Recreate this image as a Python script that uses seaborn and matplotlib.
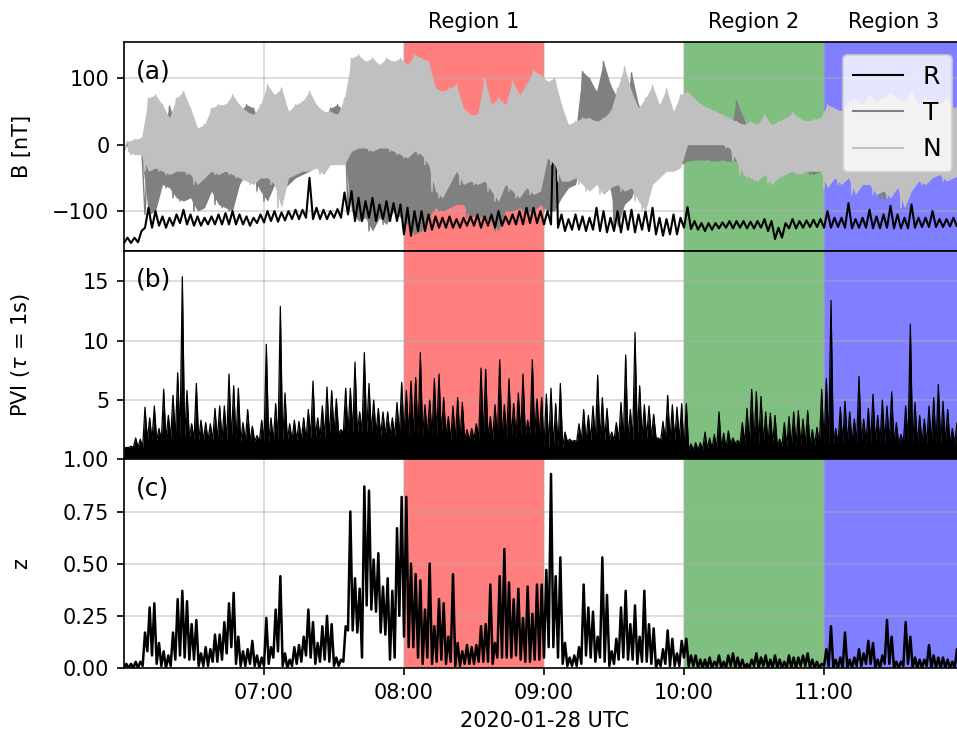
import numpy as np
import pandas as pd
import seaborn as sns
import matplotlib
matplotlib.use("Agg")
import matplotlib.pyplot as plt
import matplotlib.dates as mdates

START = pd.Timestamp("2020-01-28 06:00")

# ---- values ----
# B components: envelope (high / low) per 3-minute bin from 06:00 UTC
b_r_hi = [-140, -140, -130, -95, -100, -108, -110, -105, -98, -105,
          -108, -110, -108, -105, -103, -100, -105, -108, -110, -105,
          -100, -100, -102, -100, -98, -98, -50, -95, -98, -100,
          -97, -72, -70, -80, -85, -80, -90, -85, -88, -90,
          -95, -100, -100, -105, -108, -110, -108, -112, -110, -108,
          -105, -108, -105, -100, -108, -105, -100, -95, -95, -100,
          -100, 95, -105, -112, -105, -108, -110, -95, -100, -110,
          -100, -100, -98, -105, -100, -95, -110, -112, -105, -110,
          -94, -115, -118, -118, -118, -117, -115, -115, -115, -116,
          -115, -112, -115, -125, -118, -112, -115, -114, -113, -112,
          -100, -110, -110, -88, -112, -110, -98, -108, -105, -92,
          -105, -110, -90, -110, -110, -100, -112, -112, -110, -110]
b_r_lo = [-148, -148, -147, -125, -125, -122, -125, -122, -118, -120,
          -122, -122, -120, -120, -120, -120, -120, -120, -122, -118,
          -117, -115, -116, -114, -112, -112, -110, -112, -112, -112,
          -110, -110, -105, -115, -115, -110, -115, -112, -115, -115,
          -135, -137, -130, -130, -128, -125, -125, -125, -125, -122,
          -122, -125, -122, -125, -122, -120, -120, -120, -118, -118,
          -120, -120, -125, -130, -128, -128, -130, -128, -130, -132,
          -130, -132, -128, -132, -128, -130, -135, -137, -135, -135,
          -125, -127, -128, -130, -128, -126, -125, -126, -125, -126,
          -126, -125, -130, -142, -140, -126, -126, -125, -124, -124,
          -125, -125, -124, -125, -126, -125, -125, -126, -126, -125,
          -126, -126, -126, -125, -124, -124, -124, -124, -123, -123]
b_t_hi = [0, 2, 3, 10, 20, 15, 58, 30, 20, 20,
          10, 30, 25, 20, 30, 35, 50, 60, 55, 30,
          35, 70, 40, 30, 55, 60, 50, 30, 40, 55,
          60, 50, -5, 0, 0, 0, 0, 0, 0, 5,
          0, 0, 0, 0, 10, 10, 20, 15, 20, 25,
          30, 25, 20, 20, 15, 30, 30, 35, 30, 35,
          90, 85, 20, 10, 20, 110, 100, 80, 125, 90,
          70, 50, 108, 60, 30, 5, 30, -2, -2, 5,
          0, 0, 0, 0, 0, 0, 10, 66, 40, 15,
          10, 10, 5, 0, 10, 5, 0, 5, 0, 5,
          20, 15, 20, 15, 25, 20, 30, 25, 60, 30,
          20, 25, 30, 20, 25, 15, 20, 20, 15, 15]
b_t_lo = [-8, -10, -15, -105, -100, -60, -65, -80, -85, -80,
          -100, -95, -70, -90, -95, -100, -60, -40, -50, -70,
          -85, -60, -70, -60, -50, -45, -40, -30, -40, -25,
          -30, -20, -100, -115, -110, -130, -110, -120, -100, -110,
          -120, -135, -130, -110, -95, -100, -95, -90, -90, -110,
          -105, -110, -115, -130, -100, -100, -95, -100, -100, -90,
          -100, -100, -80, -65, -60, -20, 0, 0, -30, -70,
          -125, -90, -80, -50, -40, -40, -35, -25, -25, -30,
          -25, -23, -23, -23, -25, -23, -25, -25, -30, -40,
          -40, -45, -40, -45, -45, -40, -45, -40, -45, -40,
          -50, -45, -50, -40, -45, -50, -50, -55, -85, -60,
          -55, -60, -55, -50, -45, -45, -40, -40, -45, -40]
b_n_hi = [5, 8, 10, 70, 75, 60, 40, 70, 80, 55,
          25, 30, 55, 60, 60, 75, 60, 50, 45, 60,
          90, 75, 85, 50, 60, 65, 80, 60, 50, 50,
          45, 70, 130, 135, 125, 130, 120, 130, 125, 130,
          120, 135, 130, 125, 85, 80, 85, 90, 55, 45,
          45, 100, 60, 70, 60, 95, 75, 90, 112, 105,
          95, 100, 60, 30, 35, 40, 40, 35, 40, 50,
          85, 117, 80, 55, 70, 89, 60, 84, 50, 75,
          80, 70, 60, 55, 50, 45, 40, 35, 30, 35,
          30, 45, 30, 35, 40, 48, 40, 35, 38, 40,
          60, 55, 50, 65, 70, 60, 75, 65, 70, 78,
          70, 65, 80, 60, 70, 65, 60, 70, 55, 60]
b_n_lo = [-10, -15, -15, -40, -35, -40, -45, -40, -40, -45,
          -60, -50, -40, -45, -40, -45, -50, -55, -60, -50,
          -50, -60, -95, -50, -45, -40, -40, -35, -45, -30,
          -30, -30, -10, -5, -5, -10, -5, -5, -10, -15,
          -20, -10, -15, -30, -70, -80, -60, -40, -60, -55,
          -60, -55, -70, -85, -60, -70, -80, -65, -75, -70,
          -20, -30, -55, -55, -50, -60, -70, -60, -75, -65,
          -60, -70, -65, -85, -100, -60, -50, -40, -40, -35,
          0, 0, 0, 0, 0, 0, -5, -25, -45, -50,
          -55, -45, -60, -50, -45, -40, -45, -40, -40, -40,
          -65, -50, -60, -50, -75, -60, -60, -75, -70, -80,
          -65, -95, -70, -55, -60, -50, -45, -55, -50, -45]

# PVI: peak per 2-minute bin, and the solid floor per 10 minutes
pvi_peak = [1.0, 1.1, 1.8, 1.7, 4.4, 3.5, 4.5, 2.6, 5.9, 3.7,
            5.4, 7.3, 15.4, 5.8, 3.0, 6.4, 3.3, 3.1, 3.0, 4.3,
            4.5, 4.5, 7.2, 6.2, 6.0, 3.1, 4.2, 2.8, 2.0, 3.3,
            9.7, 3.5, 4.7, 12.9, 5.6, 3.0, 3.3, 3.2, 3.5, 4.2,
            6.6, 3.5, 4.5, 6.1, 5.8, 5.1, 2.5, 6.0, 6.0, 8.2,
            4.0, 9.0, 6.4, 5.0, 4.3, 4.0, 4.0, 3.5, 4.8, 6.5,
            5.8, 6.6, 6.9, 9.0, 4.6, 5.0, 6.8, 7.2, 5.2, 3.6,
            4.5, 5.2, 4.8, 2.5, 2.6, 3.0, 7.7, 7.6, 3.6, 4.6,
            8.4, 4.6, 6.8, 4.7, 5.6, 7.2, 3.3, 8.4, 5.1, 5.2,
            5.5, 6.0, 4.7, 6.4, 2.3, 1.7, 1.6, 3.0, 4.2, 3.7,
            4.5, 7.1, 5.2, 4.3, 2.3, 3.1, 4.8, 8.8, 4.2, 10.7,
            6.2, 4.6, 4.5, 3.8, 1.8, 3.2, 5.4, 4.6, 4.4, 4.7,
            4.7, 1.3, 1.4, 1.4, 2.3, 1.8, 2.1, 4.0, 2.2, 2.4,
            1.8, 1.6, 3.1, 4.3, 5.9, 5.7, 5.3, 4.0, 3.9, 3.7,
            1.7, 3.1, 3.6, 4.0, 4.1, 3.4, 4.1, 2.5, 2.7, 5.9,
            6.8, 13.4, 2.6, 4.4, 4.9, 4.0, 3.4, 7.0, 3.4, 4.3,
            5.5, 3.7, 5.0, 4.5, 5.7, 3.1, 2.1, 4.5, 11.4, 4.8,
            3.7, 3.4, 4.5, 5.2, 6.3, 4.9, 4.2, 2.6, 3.1, 3.0]
pvi_floor = [1.0, 1.6, 1.8, 1.6, 1.6, 1.5, 1.5, 1.6, 1.8, 2.2,
             2.2, 2.0, 2.0, 2.0, 1.6, 1.7, 1.8, 2.0, 1.0, 1.5,
             1.6, 1.6, 1.8, 1.6, 0.8, 0.9, 1.3, 1.3, 1.1, 1.2,
             1.3, 1.4, 1.4, 1.3, 1.3, 1.3]

# z: envelope per 2-minute bin
z_hi = [0.02, 0.02, 0.03, 0.03, 0.17, 0.29, 0.31, 0.12, 0.08, 0.06,
        0.17, 0.33, 0.37, 0.32, 0.21, 0.23, 0.07, 0.10, 0.09, 0.16,
        0.16, 0.22, 0.31, 0.36, 0.15, 0.08, 0.09, 0.13, 0.06, 0.05,
        0.24, 0.10, 0.28, 0.44, 0.07, 0.04, 0.10, 0.11, 0.15, 0.28,
        0.22, 0.12, 0.20, 0.25, 0.21, 0.05, 0.04, 0.20, 0.75, 0.43,
        0.38, 0.87, 0.85, 0.52, 0.55, 0.39, 0.43, 0.37, 0.67, 0.82,
        0.82, 0.50, 0.45, 0.42, 0.28, 0.50, 0.20, 0.33, 0.31, 0.15,
        0.45, 0.12, 0.08, 0.11, 0.10, 0.11, 0.20, 0.21, 0.40, 0.12,
        0.44, 0.57, 0.41, 0.33, 0.38, 0.24, 0.39, 0.26, 0.40, 0.40,
        0.47, 0.93, 0.44, 0.53, 0.12, 0.05, 0.06, 0.10, 0.40, 0.29,
        0.27, 0.15, 0.53, 0.35, 0.08, 0.14, 0.29, 0.37, 0.21, 0.30,
        0.15, 0.37, 0.21, 0.19, 0.04, 0.09, 0.18, 0.14, 0.07, 0.13,
        0.14, 0.06, 0.06, 0.04, 0.04, 0.05, 0.03, 0.06, 0.03, 0.06,
        0.07, 0.05, 0.04, 0.02, 0.04, 0.07, 0.05, 0.06, 0.04, 0.06,
        0.04, 0.03, 0.06, 0.05, 0.05, 0.06, 0.07, 0.04, 0.03, 0.02,
        0.09, 0.20, 0.04, 0.05, 0.17, 0.04, 0.05, 0.09, 0.07, 0.13,
        0.12, 0.04, 0.06, 0.23, 0.15, 0.03, 0.03, 0.22, 0.15, 0.05,
        0.04, 0.04, 0.11, 0.06, 0.05, 0.05, 0.04, 0.03, 0.09, 0.05]
z_lo = [0.0, 0.0, 0.0, 0.0, 0.01, 0.08, 0.06, 0.02, 0.01, 0.0,
        0.01, 0.04, 0.06, 0.05, 0.04, 0.04, 0.01, 0.01, 0.01, 0.03,
        0.03, 0.04, 0.07, 0.10, 0.02, 0.01, 0.01, 0.02, 0.01, 0.0,
        0.01, 0.02, 0.05, 0.08, 0.01, 0.0, 0.01, 0.02, 0.03, 0.06,
        0.05, 0.02, 0.03, 0.04, 0.03, 0.01, 0.01, 0.03, 0.18, 0.18,
        0.17, 0.05, 0.30, 0.28, 0.27, 0.17, 0.16, 0.04, 0.05, 0.25,
        0.15, 0.10, 0.10, 0.05, 0.02, 0.05, 0.02, 0.03, 0.04, 0.02,
        0.03, 0.01, 0.01, 0.02, 0.02, 0.02, 0.03, 0.03, 0.03, 0.02,
        0.05, 0.05, 0.05, 0.05, 0.06, 0.04, 0.03, 0.03, 0.04, 0.04,
        0.05, 0.10, 0.10, 0.05, 0.02, 0.01, 0.01, 0.01, 0.02, 0.06,
        0.05, 0.03, 0.05, 0.03, 0.01, 0.02, 0.04, 0.05, 0.04, 0.04,
        0.02, 0.03, 0.03, 0.02, 0.0, 0.01, 0.02, 0.01, 0.01, 0.01,
        0.05, 0.01, 0.01, 0.0, 0.0, 0.0, 0.0, 0.01, 0.0, 0.0,
        0.01, 0.0, 0.0, 0.0, 0.0, 0.01, 0.0, 0.01, 0.0, 0.0,
        0.0, 0.0, 0.0, 0.0, 0.0, 0.01, 0.01, 0.0, 0.0, 0.0,
        0.01, 0.01, 0.0, 0.0, 0.0, 0.0, 0.0, 0.01, 0.01, 0.02,
        0.02, 0.0, 0.0, 0.02, 0.02, 0.0, 0.0, 0.01, 0.02, 0.0,
        0.0, 0.0, 0.01, 0.0, 0.0, 0.0, 0.0, 0.0, 0.0, 0.0]

regions = ["Region 1", "Region 2", "Region 3"]
region_start = ["08:00", "10:00", "11:00"]
region_end = ["09:00", "11:00", "12:00"]
region_colors = ["red", "green", "blue"]


def at(hhmm):
    return START.normalize() + pd.Timedelta(hhmm + ":00")


def zigzag(hi, lo, step):
    # one low and one high sample per bin so the trace keeps its spread
    n = len(hi)
    mins = np.repeat(np.arange(n) * step, 2).astype(float)
    mins[1::2] += step / 2
    vals = np.empty(2 * n)
    vals[0::2] = lo
    vals[1::2] = hi
    return (START + pd.to_timedelta(mins, unit="min")).to_numpy(), vals


def centres(n, step):
    return (START + pd.to_timedelta(np.arange(n) * step + step / 2, unit="min")).to_numpy()


plt.rcParams["font.size"] = 10
fig, axes = plt.subplots(3, 1, sharex=True, figsize=(957 / 150, 738 / 150), dpi=150,
                         gridspec_kw=dict(hspace=0))
fig.subplots_adjust(left=124 / 957, right=964 / 957, top=1 - 42 / 738, bottom=1 - 668 / 738)
ax_b, ax_p, ax_z = axes

# (a) magnetic field: T band, R trace over it, N band on top
tc = centres(len(b_t_hi), 3)
ax_b.fill_between(tc, b_t_lo, b_t_hi, color="gray", lw=0, zorder=2.0)
t, v = zigzag(b_t_hi, b_t_lo, 3)
sns.lineplot(x=t, y=v, color="gray", lw=0.7, label="T", estimator=None, sort=False, ax=ax_b, zorder=2.05)
t, v = zigzag(b_r_hi, b_r_lo, 3)
sns.lineplot(x=t, y=v, color="black", lw=1.0, label="R", estimator=None, sort=False, ax=ax_b, zorder=2.1)
ax_b.fill_between(tc, b_n_lo, b_n_hi, color="silver", lw=0, zorder=2.2)
t, v = zigzag(b_n_hi, b_n_lo, 3)
sns.lineplot(x=t, y=v, color="silver", lw=0.7, label="N", estimator=None, sort=False, ax=ax_b, zorder=2.25)
ax_b.set_ylim(-159.5, 154.3)
ax_b.set_yticks([-100, 0, 100])
ax_b.set_ylabel("B [nT]")
handles, labels = ax_b.get_legend_handles_labels()
order = [labels.index(k) for k in ["R", "T", "N"]]
leg = ax_b.legend([handles[i] for i in order], ["R", "T", "N"],
                  loc="upper right", fontsize=12, handlelength=2.0)
for h in leg.get_lines():
    h.set_linewidth(1.0)

# (b) PVI
floor = np.repeat(pvi_floor, 5)
t, v = zigzag(pvi_peak, floor, 2)
ax_p.fill_between(t, 0, v, color="black", lw=0, zorder=2)
sns.lineplot(x=t, y=v, color="black", lw=0.6, estimator=None, sort=False, ax=ax_p, zorder=2.1)
ax_p.set_ylim(0, 17.6)
ax_p.set_yticks([5, 10, 15])
ax_p.set_ylabel(r"PVI ($\tau$ = 1s)")

# (c) z
t, v = zigzag(z_hi, z_lo, 2)
sns.lineplot(x=t, y=v, color="black", lw=1.2, estimator=None, sort=False, ax=ax_z, zorder=2)
ax_z.set_ylim(0, 1.0)
ax_z.set_yticks([0, 0.25, 0.5, 0.75, 1.0])
ax_z.set_ylabel("z")

for ax, tag in zip(axes, ["(a)", "(b)", "(c)"]):
    for s, e, c in zip(region_start, region_end, region_colors):
        ax.axvspan(mdates.date2num(at(s)), mdates.date2num(at(e)), color=c, alpha=0.5, lw=0, zorder=1)
    ax.grid(True, color="#b0b0b0", alpha=0.5, lw=0.8)
    ax.text(0.014, 0.86, tag, transform=ax.transAxes, fontsize=12, va="center", ha="left")
    ax.yaxis.set_label_coords(-0.11, 0.5)

for name, s, e in zip(regions, region_start, region_end):
    mid = at(s) + (at(e) - at(s)) / 2
    ax_b.text(mdates.date2num(mid), 1.05, name, transform=ax_b.get_xaxis_transform(),
              ha="center", va="bottom")

ax_z.set_xlim(mdates.date2num(at("06:00")), mdates.date2num(at("12:00")))
ax_z.xaxis.set_major_locator(mdates.HourLocator(byhour=range(7, 12)))
ax_z.xaxis.set_major_formatter(mdates.DateFormatter("%H:%M"))
ax_z.set_xlabel("2020-01-28 UTC")

fig.savefig("out.png", dpi=150)
